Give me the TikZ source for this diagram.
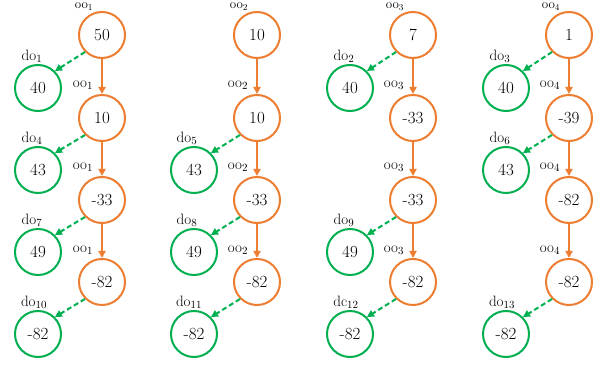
\documentclass[tikz,border=0pt]{standalone}
\usetikzlibrary{arrows.meta}
\definecolor{oorange}{RGB}{237,125,49}
\definecolor{ggreen}{RGB}{0,176,80}
\begin{document}
\begin{tikzpicture}[x=1pt,y=-1pt,
  onode/.style={circle,draw=oorange,line width=2pt,minimum size=46pt,inner sep=0pt,font=\fontsize{17}{19}\selectfont},
  gnode/.style={circle,draw=ggreen,line width=2pt,minimum size=46pt,inner sep=0pt,font=\fontsize{17}{19}\selectfont},
  oarrow/.style={draw=oorange,line width=2pt,-{Triangle[length=7pt,width=7pt]}},
  garrow/.style={draw=ggreen,line width=2pt,dash pattern=on 5pt off 3pt,-{Triangle[length=7pt,width=7pt]}},
  lbl/.style={font=\fontsize{15}{17}\selectfont,inner sep=0pt},
  toplbl/.style={font=\fontsize{13}{15}\selectfont,inner sep=0pt,anchor=north}]
\useasboundingbox (0,0) rectangle (603,366);
% orange chains
\foreach \c/\x/\a/\b/\cc/\d in {1/102/50/10/-33/-82, 2/257/10/10/-33/-82, 3/413/7/-33/-33/-82, 4/569/1/-39/-82/-82}{
  \node[onode] (o\c a) at (\x,35) {\a};
  \node[onode] (o\c b) at (\x,118) {\b};
  \node[onode] (o\c c) at (\x,200) {\cc};
  \node[onode] (o\c d) at (\x,282) {\d};
  \draw[oarrow] (o\c a) -- (o\c b);
  \draw[oarrow] (o\c b) -- (o\c c);
  \draw[oarrow] (o\c c) -- (o\c d);
  \node[toplbl] (t\c) at (\x-18,3) {oo$_{\c}$};
  \node[lbl] (l\c a) at (\x-19,85) {oo$_{\c}$};
  \node[lbl] (l\c b) at (\x-19,167) {oo$_{\c}$};
  \node[lbl] (l\c c) at (\x-19,250) {oo$_{\c}$};
}
% column 1 green
\node[gnode] (g1a) at (38,88) {40};
\node[gnode] (g1b) at (38,170) {43};
\node[gnode] (g1c) at (38,252) {49};
\node[gnode] (g1d) at (38,334) {-82};
\node[lbl] (d1) at (32,56) {do$_{1}$};
\node[lbl] (d4) at (32,138) {do$_{4}$};
\node[lbl] (d7) at (32,220) {do$_{7}$};
\node[lbl] (d10) at (34,302) {do$_{10}$};
\draw[garrow] (o1a.225) -- (g1a.45);
\draw[garrow] (o1b.225) -- (g1b.45);
\draw[garrow] (o1c.225) -- (g1c.45);
\draw[garrow] (o1d.225) -- (g1d.45);
% column 2 green
\node[gnode] (g2b) at (194,170) {43};
\node[gnode] (g2c) at (194,252) {49};
\node[gnode] (g2d) at (194,334) {-82};
\node[lbl] (d5) at (187,138) {do$_{5}$};
\node[lbl] (d8) at (187,220) {do$_{8}$};
\node[lbl] (d11) at (189,302) {do$_{11}$};
\draw[garrow] (o2b.225) -- (g2b.45);
\draw[garrow] (o2c.225) -- (g2c.45);
\draw[garrow] (o2d.225) -- (g2d.45);
% column 3 green
\node[gnode] (g3a) at (350,88) {40};
\node[gnode] (g3c) at (350,252) {49};
\node[gnode] (g3d) at (350,334) {-82};
\node[lbl] (d2) at (344,56) {do$_{2}$};
\node[lbl] (d9) at (344,220) {do$_{9}$};
\node[lbl] (d12) at (346,302) {dc$_{12}$};
\draw[garrow] (o3a.225) -- (g3a.45);
\draw[garrow] (o3c.225) -- (g3c.45);
\draw[garrow] (o3d.225) -- (g3d.45);
% column 4 green
\node[gnode] (g4a) at (506,88) {40};
\node[gnode] (g4b) at (506,170) {43};
\node[gnode] (g4d) at (506,334) {-82};
\node[lbl] (d3) at (500,56) {do$_{3}$};
\node[lbl] (d6) at (500,138) {do$_{6}$};
\node[lbl] (d13) at (502,302) {do$_{13}$};
\draw[garrow] (o4a.225) -- (g4a.45);
\draw[garrow] (o4b.225) -- (g4b.45);
\draw[garrow] (o4d.225) -- (g4d.45);
\end{tikzpicture}
\end{document}
